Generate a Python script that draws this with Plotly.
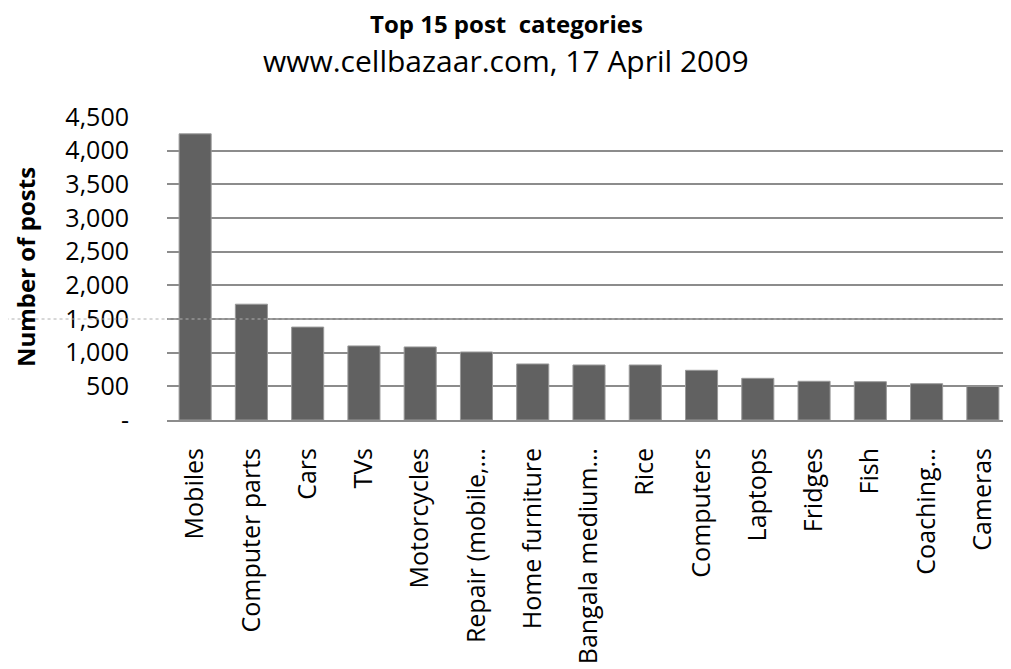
import plotly.graph_objects as go

categories = ["Mobiles", "Computer parts", "Cars", "TVs", "Motorcycles",
              "Repair (mobile,…", "Home furniture", "Bangala medium…", "Rice",
              "Computers", "Laptops", "Fridges", "Fish", "Coaching…", "Cameras"]
posts = [4250, 1720, 1380, 1100, 1085, 1010, 832, 817, 817, 738, 619, 575, 569, 539, 500]

y_tickvals = [0, 500, 1000, 1500, 2000, 2500, 3000, 3500, 4000, 4500]
y_ticktext = ["-", "500", "1,000", "1,500", "2,000", "2,500", "3,000", "3,500", "4,000", "4,500"]

title_text = "<b>Top 15 post  categories</b>"
subtitle_text = "www.cellbazaar.com, 17 April 2009"
y_title_text = "<b>Number of posts</b>"

# page has an 8px body margin; figure sized to fit window
W, H = 1003, 661
L, R, T, B = 159, 0, 109, 249
plot_h = H - T - B
plot_w = W - L - R

fig = go.Figure(go.Bar(
    x=categories, y=posts,
    marker=dict(color="#616161", line=dict(color="#9a9a9a", width=1)),
))

def py(fig_y):
    return 1 + (T - fig_y) / plot_h

def px(fig_x):
    return (fig_x - L) / plot_w

cx = px(498)

fig.update_layout(
    width=W, height=H,
    margin=dict(l=L, r=R, t=T, b=B),
    paper_bgcolor="white", plot_bgcolor="white",
    bargap=0.43,
    showlegend=False,
    font=dict(family="Open Sans", color="black"),
    annotations=[
        dict(text=title_text, xref="paper", yref="paper", x=cx, y=py(15),
             xanchor="center", yanchor="middle", showarrow=False, borderpad=0,
             font=dict(family="Open Sans", size=24, color="black")),
        dict(text=subtitle_text, xref="paper", yref="paper", x=cx, y=py(52),
             xanchor="center", yanchor="middle", showarrow=False, borderpad=0,
             font=dict(family="Open Sans", size=30, color="black")),
        dict(text=y_title_text, xref="paper", yref="paper", x=px(17), y=py(259),
             xanchor="center", yanchor="middle", showarrow=False, textangle=-90,
             borderpad=0,
             font=dict(family="Open Sans", size=24, color="black")),
    ],
)

fig.update_yaxes(
    range=[0, 4500],
    tickvals=y_tickvals, ticktext=y_ticktext,
    tickfont=dict(family="Open Sans", size=25, color="black"),
    showgrid=True, gridcolor="#8c8c8c", gridwidth=1.5,
    zeroline=False, automargin=False,
    ticks="outside", ticklen=32, tickcolor="rgba(0,0,0,0)",
)

fig.update_xaxes(
    tickangle=-90,
    tickfont=dict(family="Open Sans", size=25, color="black"),
    showline=True, linecolor="#8c8c8c", linewidth=2,
    automargin=False,
    ticks="outside", ticklen=16, tickcolor="rgba(0,0,0,0)",
)

fig.add_shape(type="line", xref="paper", yref="y", x0=-L / plot_w - 0.01, x1=1, y0=1500, y1=1500,
              line=dict(color="#b0b0b0", width=1, dash="dot"))

fig.write_html("out.html")
